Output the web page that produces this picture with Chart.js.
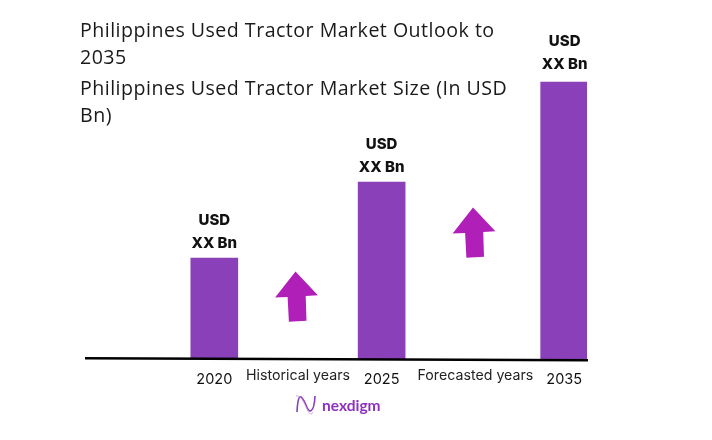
<!DOCTYPE html>
<html><head><meta charset="utf-8">
<style>html,body{margin:0;padding:0;background:#fff}canvas{display:block}</style>
<script src="https://cdn.jsdelivr.net/npm/chart.js@4"></script></head>
<body><canvas id="c" width="712" height="440"></canvas>
<script>
const slots = ['','','','','','','','','2020','','','','','','','','','','','2025','','','','','','','','','','','','2035',''];
const years = ['2020','2025','2035'];
const values = [101,177,277];
const valueLabels = [['USD','XX Bn'],['USD','XX Bn'],['USD','XX Bn']];
const periodLabels = ['Historical years','Forecasted years'];
const titleLines = ['Philippines Used Tractor Market Outlook to','2035','Philippines Used Tractor Market Size (In USD','Bn)'];
const brand = 'nexdigm';

const BAR='#8A40B8', ARROW='#B020B8';
function arrow(ctx,tx,ty){
  const neck=[[0,0],[22.4,23.7],[10.2,24.4],[11,49.2],[-6.6,50.3],[-7.9,25.4],[-20.4,25.9]];
  ctx.beginPath();neck.forEach((p,i)=>{i?ctx.lineTo(tx+p[0],ty+p[1]):ctx.moveTo(tx+p[0],ty+p[1])});
  ctx.closePath();ctx.fillStyle=ARROW;ctx.fill();
}
const deco={id:'deco',afterDraw(chart){
  const ctx=chart.ctx,a=chart.chartArea;
  ctx.save();
  ctx.strokeStyle='#000';ctx.lineWidth=2.4;ctx.beginPath();ctx.moveTo(85,358.2);ctx.lineTo(a.right+1,360.2);ctx.stroke();
  ctx.fillStyle='#1a1a1a';ctx.textAlign='left';ctx.textBaseline='middle';
  ctx.font='400 19.6px "Open Sans"';ctx.letterSpacing='0.48px';
  [31,58,89,116].forEach((y,i)=>ctx.fillText(titleLines[i],80,y));
  ctx.letterSpacing='0px';ctx.fillStyle='#111';ctx.textAlign='center';ctx.font='800 15px Inter';
  const m=chart.getDatasetMeta(0).data;
  m.forEach((b,i)=>{const off=i===2?[-41,-18]:[-37.5,-14.5];
    valueLabels[i].forEach((t,j)=>ctx.fillText(t,b.x+(i===2?0.5:0),b.y+off[j]));});
  ctx.font='400 14.2px Inter';ctx.fillStyle='#222';
  ctx.fillText(periodLabels[0],(m[0].x+m[1].x)/2,376);
  ctx.fillText(periodLabels[1],(m[1].x+m[2].x)/2+2.5,376);
  arrow(ctx,295.5,271.5);arrow(ctx,473,207.5);
  ctx.strokeStyle='#8A40B8';ctx.lineWidth=1.6;ctx.beginPath();ctx.moveTo(297,412);ctx.bezierCurveTo(298,390,302,396,306,405);ctx.bezierCurveTo(309,414,314,414,315,396);ctx.stroke();
  ctx.strokeStyle='#C79BE0';ctx.lineWidth=0.9;ctx.beginPath();ctx.moveTo(296,396);ctx.bezierCurveTo(300,395,303,400,306,407);ctx.bezierCurveTo(309,414,311,416,313,412);ctx.stroke();
  ctx.fillStyle='#8E2FC0';ctx.textAlign='left';ctx.font='700 15.5px Lato';ctx.fillText(brand,322,405.5);
  ctx.restore();
}};
new Chart(document.getElementById('c'),{
  type:'bar',
  data:{labels:slots,datasets:[{data:years.map((y,i)=>({x:y,y:values[i]})),backgroundColor:BAR,barThickness:47,borderWidth:0}]},
  plugins:[deco],
  options:{responsive:false,animation:false,devicePixelRatio:1,
    layout:{padding:{left:85,right:125,top:59,bottom:0}},
    plugins:{legend:{display:false},tooltip:{enabled:false},title:{display:false}},
    scales:{
      y:{display:false,min:0,max:300},
      x:{grid:{display:false},border:{display:false},
         afterFit(s){s.height=81;},
         ticks:{autoSkip:false,maxRotation:0,minRotation:0,padding:4,color:'#111',font:{family:'Inter',size:14.5}}}
    }}
});
</script></body></html>
